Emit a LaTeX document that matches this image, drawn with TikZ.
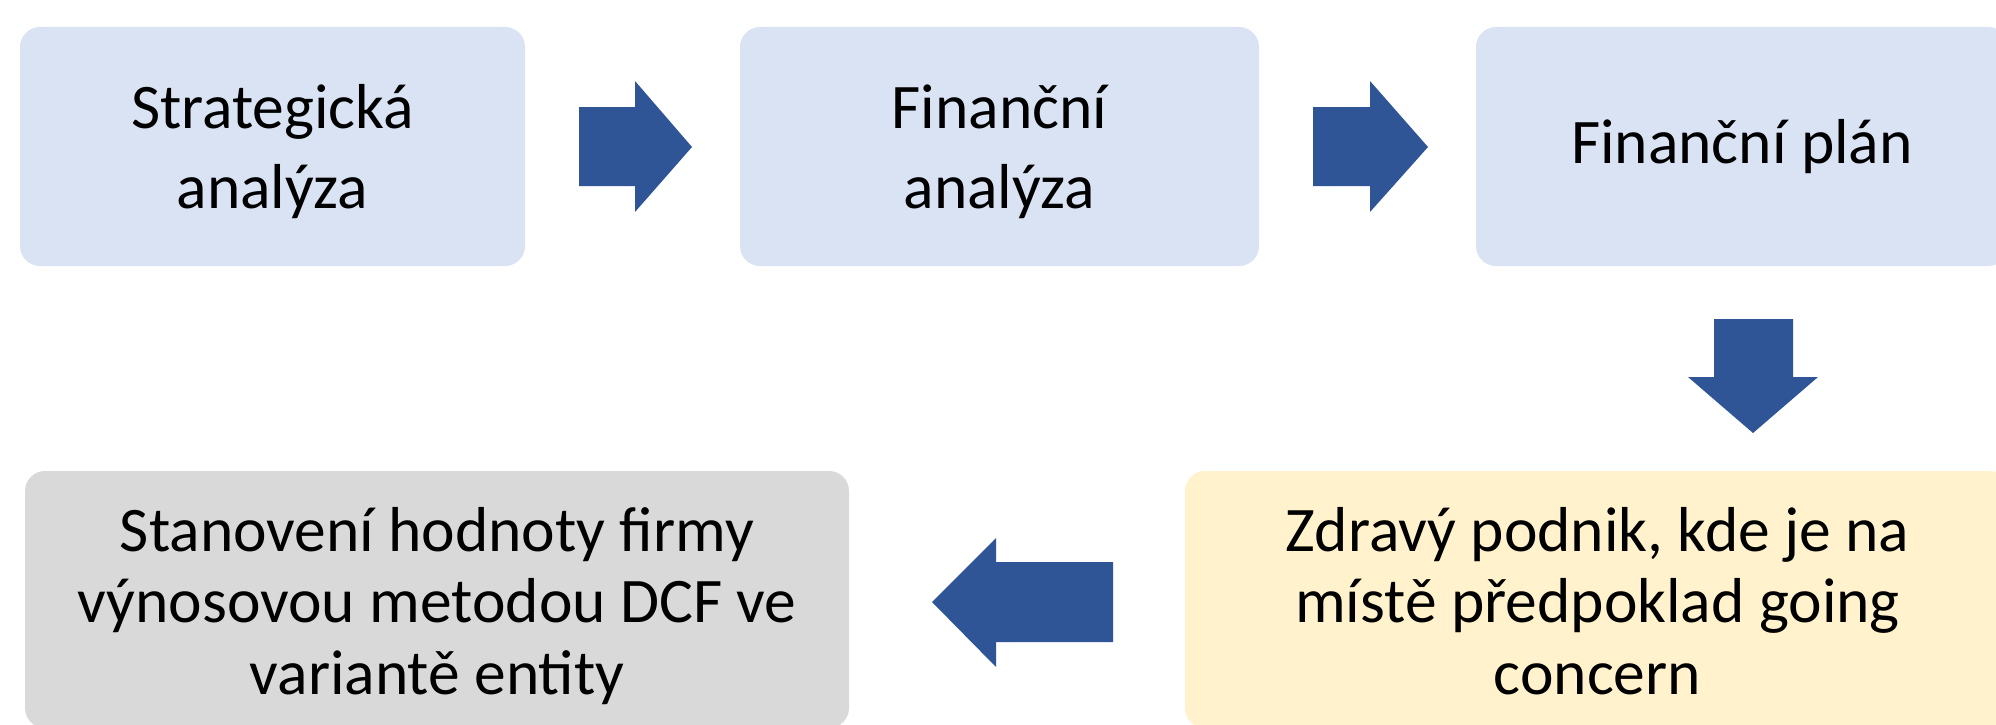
\documentclass[tikz,border=0pt]{standalone}
\usepackage{fontspec}
\setmainfont{Carlito}
\definecolor{boxblue}{HTML}{DAE3F3}
\definecolor{boxyellow}{HTML}{FFF2CC}
\definecolor{boxgray}{HTML}{D9D9D9}
\definecolor{arrowblue}{HTML}{2F5597}
\newcommand{\toplines}[1]{\fontsize{63.5}{80}\selectfont\begin{tabular}[t]{@{}c@{}}#1\end{tabular}}
\newcommand{\botlines}[1]{\fontsize{63.5}{71.5}\selectfont\begin{tabular}[t]{@{}c@{}}#1\end{tabular}}
\begin{document}
\begin{tikzpicture}[x=1pt,y=-1pt,
  box/.style={rectangle, rounded corners=20pt, draw=none, inner sep=0pt},
  txt/.style={anchor=base, inner sep=0pt, text=black},
  blockarrow/.style={fill=arrowblue, draw=none}]
\useasboundingbox (0,0) rectangle (1996,725);
\fill[white] (0,0) rectangle (1996,725);
% boxes
\node[box, fill=boxblue, minimum width=505pt, minimum height=239pt] (strat) at (272.5,146.5) {};
\node[box, fill=boxblue, minimum width=519pt, minimum height=239pt] (fin) at (999.5,146.5) {};
\node[box, fill=boxblue, minimum width=532pt, minimum height=239pt] (plan) at (1742,146.5) {};
\node[box, fill=boxyellow, minimum width=825pt, minimum height=257pt] (zdrav) at (1597.5,599.5) {};
\node[box, fill=boxgray, minimum width=824pt, minimum height=257pt] (stan) at (437,599.5) {};
% texts
\node[txt] (strat-t) at (272.5,128) {\toplines{Strategická\\analýza}};
\node[txt] (fin-t) at (999.5,128) {\toplines{Finanční\\analýza}};
\node[txt] (plan-t) at (1742,163) {\toplines{Finanční plán}};
\node[txt] (zdrav-t) at (1597.5,551) {\botlines{Zdravý podnik, kde je na\\místě předpoklad going\\concern}};
\node[txt] (stan-t) at (437,551) {\botlines{Stanovení hodnoty firmy\\výnosovou metodou DCF ve\\variantě entity}};
% right arrows
\fill[blockarrow] (579,107) -- (635,107) -- (635,81) -- (692,147) -- (635,212) -- (635,186) -- (579,186) -- cycle;
\fill[blockarrow] (1313,107) -- (1370,107) -- (1370,81) -- (1428,147) -- (1370,212) -- (1370,186) -- (1313,186) -- cycle;
% down arrow
\fill[blockarrow] (1714,319) -- (1793,319) -- (1793,377) -- (1818,377) -- (1753,433) -- (1688,377) -- (1714,377) -- cycle;
% left arrow
\fill[blockarrow] (1113,562) -- (996,562) -- (996,538) -- (932,602) -- (996,667) -- (996,642) -- (1113,642) -- cycle;
\end{tikzpicture}
\end{document}
